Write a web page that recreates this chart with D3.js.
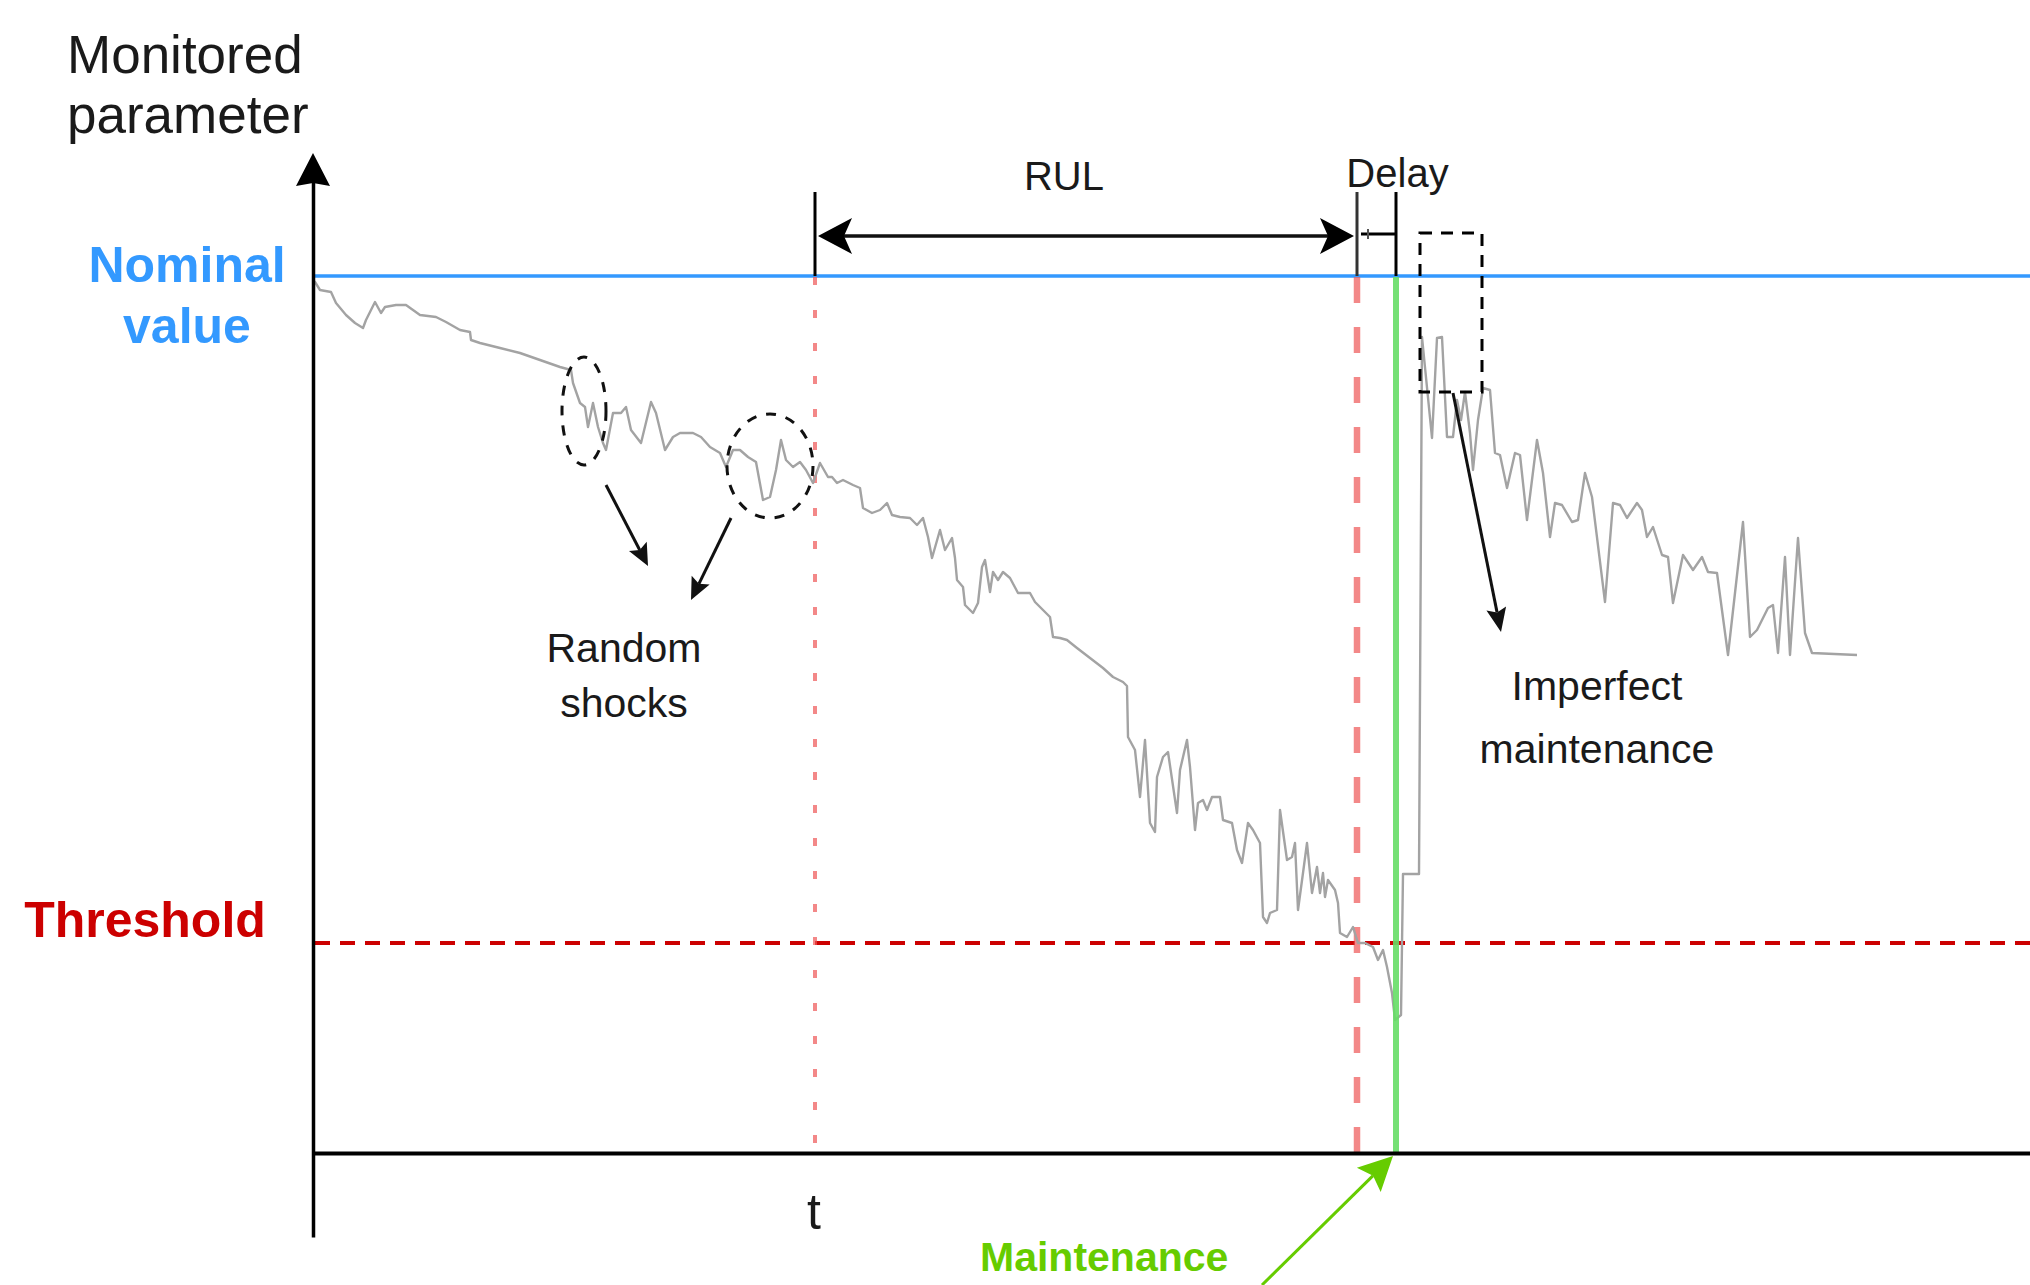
<!DOCTYPE html>
<html>
<head>
<meta charset="utf-8">
<script src="https://cdn.jsdelivr.net/npm/d3@7"></script>
<style>
  html, body { margin: 0; padding: 0; background: #fff; overflow: hidden; }
  svg { display: block; }
  text { font-family: "Liberation Sans", Arial, Helvetica, sans-serif; }
</style>
</head>
<body>
<svg id="chart" width="2030" height="1285"></svg>
<script>
// ---------------- DATA ----------------
// Degradation path before maintenance (time step, monitored value)
const preTime = [0,2,7,18,23,33,42,50,53,62,68,72,83,93,100,107,123,133,147,157,158,167,187,207,227,247,258,260,267,272,275,280,285,290,293,300,308,313,318,328,338,343,352,360,367,380,388,397,407,413,420,427,435,443,450,457,463,468,473,480,487,493,500,507,515,519,524,530,540,547,550,559,567,574,579,587,597,604,610,615,619,627,632,639,642,644,650,652,660,665,669,672,677,680,685,690,697,705,717,722,730,737,740,747,754,764,777,790,800,810,814,815,822,827,832,837,842,844,850,855,864,867,874,877,882,885,890,894,899,907,910,919,924,929,932,935,940,947,950,954,957,964,967,974,979,982,985,990,994,999,1004,1007,1010,1012,1015,1022,1025,1027,1034,1040,1045,1052,1060,1065,1070,1074,1079,1082];
const preValue = [873,871,863,861,850,838,830,825,833,851,840,846,848,848,843,838,836,831,823,821,813,810,805,800,793,786,783,770,750,746,726,750,726,710,703,740,740,746,723,710,751,740,703,716,720,720,716,706,700,686,703,703,696,691,653,656,683,713,693,686,691,683,670,690,676,676,670,673,668,665,645,640,643,650,638,636,635,628,635,616,595,623,603,615,595,573,566,548,540,550,586,593,561,581,573,581,575,560,560,551,543,536,516,515,513,505,495,485,476,471,467,416,403,356,413,330,321,376,396,401,340,383,413,386,323,350,353,343,356,356,333,330,303,290,310,330,323,310,236,230,240,243,343,293,296,310,243,280,310,260,286,260,280,256,273,263,250,220,216,226,210,210,206,193,203,186,160,133];
// Path after (imperfect) maintenance
const postTime = [1088,1090,1106,1109,1119,1124,1129,1134,1140,1144,1148,1152,1157,1160,1165,1170,1177,1182,1187,1194,1202,1207,1214,1224,1230,1237,1242,1249,1259,1265,1272,1279,1292,1300,1307,1314,1324,1329,1334,1340,1349,1355,1360,1370,1380,1389,1395,1404,1415,1430,1437,1444,1455,1460,1465,1472,1477,1485,1492,1499,1544];
const postValue = [138,279,279,816,715,815,816,716,716,753,733,761,720,683,733,765,763,700,698,665,700,698,633,713,680,616,650,648,631,633,680,656,551,650,648,635,650,643,616,626,598,596,550,598,583,596,581,580,498,631,516,523,545,548,500,596,498,615,520,500,498];

// Reference levels and key instants
const nominalValue = 877;
const thresholdValue = 210;
const tObserve = 502;     // "t"
const tFailure = 1044;    // threshold reached (end of RUL)
const tMaintenance = 1083;// maintenance performed (end of delay)

// Random shock ellipses: [centerTime, centerValue, halfWidth, halfHeight]
const shockTime = [271, 457];
const shockValue = [742, 687];
const shockRx = [22, 43];
const shockRy = [54, 52];

// Labels
const yTitle = ["Monitored", "parameter"];
const nominalLabel = ["Nominal", "value"];
const thresholdLabel = "Threshold";
const shockLabel = ["Random", "shocks"];
const imperfectLabel = ["Imperfect", "maintenance"];
const maintLabel = "Maintenance";
const tLabel = "t";

// ---------------- DRAW ----------------
const svg = d3.select("#chart");
const x = d3.scaleLinear().domain([0, 1717]).range([313, 2030]);
const y = d3.scaleLinear().domain([0, 877]).range([1153, 276]);

function arrowHead(x1, y1, x2, y2, len, hw, notch) {
  const d = Math.hypot(x2 - x1, y2 - y1);
  const ux = (x2 - x1) / d, uy = (y2 - y1) / d;
  const px = -uy, py = ux;
  const bx = x2 - ux * len, by = y2 - uy * len;
  const nx = x2 - ux * (len - notch), ny = y2 - uy * (len - notch);
  return `M${x2},${y2}L${bx + px * hw},${by + py * hw}L${nx},${ny}L${bx - px * hw},${by - py * hw}Z`;
}
function arrow(g, x1, y1, x2, y2, color, width, len, hw, notch) {
  const d = Math.hypot(x2 - x1, y2 - y1);
  const ux = (x2 - x1) / d, uy = (y2 - y1) / d;
  g.append("line").attr("x1", x1).attr("y1", y1)
    .attr("x2", x2 - ux * (len - notch)).attr("y2", y2 - uy * (len - notch))
    .attr("stroke", color).attr("stroke-width", width);
  g.append("path").attr("d", arrowHead(x1, y1, x2, y2, len, hw, notch)).attr("fill", color);
}

// Nominal line
svg.append("line")
  .attr("x1", x(0)).attr("x2", x(1717))
  .attr("y1", y(nominalValue)).attr("y2", y(nominalValue))
  .attr("stroke", "#3399FF").attr("stroke-width", 3.5);

// Threshold line
svg.append("line")
  .attr("x1", x(0) + 2).attr("x2", x(1717))
  .attr("y1", y(thresholdValue)).attr("y2", y(thresholdValue))
  .attr("stroke", "#CC0000").attr("stroke-width", 4)
  .attr("stroke-dasharray", "15 10");

// t dotted line
svg.append("line")
  .attr("x1", x(tObserve)).attr("x2", x(tObserve))
  .attr("y1", y(nominalValue) + 1).attr("y2", y(0))
  .attr("stroke", "#EE5555").attr("stroke-opacity", 0.7).attr("stroke-width", 4)
  .attr("stroke-dasharray", "8 25");

// Failure dashed line
svg.append("line")
  .attr("x1", x(tFailure)).attr("x2", x(tFailure))
  .attr("y1", y(nominalValue) + 1).attr("y2", y(0))
  .attr("stroke", "#EE5555").attr("stroke-opacity", 0.7).attr("stroke-width", 6.5)
  .attr("stroke-dasharray", "26 24");

// Degradation curve
const series = preTime.map((t, i) => [t, preValue[i]])
  .concat(postTime.map((t, i) => [t, postValue[i]]));
const line = d3.line().x(d => x(d[0])).y(d => y(d[1]));
svg.append("path").datum(series)
  .attr("d", line)
  .attr("fill", "none").attr("stroke", "#A3A3A3").attr("stroke-width", 2.4)
  .attr("stroke-linejoin", "round");

// Maintenance green line
svg.append("line")
  .attr("x1", x(tMaintenance)).attr("x2", x(tMaintenance))
  .attr("y1", y(nominalValue) + 1).attr("y2", y(0))
  .attr("stroke", "#66DD66").attr("stroke-opacity", 0.9).attr("stroke-width", 6);

// Axes
const xAxis = d3.axisBottom(x).tickValues([]).tickSizeOuter(0);
svg.append("g").attr("transform", `translate(0,${y(0)})`).call(xAxis)
  .select(".domain").attr("stroke", "#000").attr("stroke-width", 4);
const yAxisScale = d3.scaleLinear().domain([-84, 975]).range([y(-84), y(975)]);
const yAxis = d3.axisLeft(yAxisScale).tickValues([]).tickSizeOuter(0);
svg.append("g").attr("transform", `translate(${x(0)},0)`).call(yAxis)
  .select(".domain").attr("stroke", "#000").attr("stroke-width", 3.5);
svg.append("path")
  .attr("d", arrowHead(x(0), y(960), x(0), y(1000), 33, 17, 3))
  .attr("fill", "#000");

// RUL / Delay bars above nominal line
[tObserve, tFailure, tMaintenance].forEach((t, i) => {
  svg.append("line")
    .attr("x1", x(t)).attr("x2", x(t))
    .attr("y1", y(nominalValue + 84)).attr("y2", y(nominalValue))
    .attr("stroke", i === 1 ? "#333" : "#000").attr("stroke-width", 3);
});
// RUL double arrow
const rulY = y(917);
const ax = svg.append("g");
ax.append("line").attr("x1", x(tObserve) + 20).attr("x2", x(tFailure) - 20)
  .attr("y1", rulY).attr("y2", rulY).attr("stroke", "#111").attr("stroke-width", 3.5);
ax.append("path").attr("d", arrowHead(x(tFailure), rulY, x(tObserve) + 3, rulY, 34, 18, 8)).attr("fill", "#000");
ax.append("path").attr("d", arrowHead(x(tObserve), rulY, x(tFailure) - 3, rulY, 34, 18, 8)).attr("fill", "#000");
// Delay small span
const dY = y(919);
ax.append("line").attr("x1", x(tFailure) + 4).attr("x2", x(tMaintenance))
  .attr("y1", dY).attr("y2", dY).attr("stroke", "#000").attr("stroke-width", 3);
ax.append("line").attr("x1", x(tFailure) + 11).attr("x2", x(tFailure) + 11)
  .attr("y1", dY - 5).attr("y2", dY + 5).attr("stroke", "#555").attr("stroke-width", 2);

// Random shock ellipses
const sg = svg.append("g");
shockTime.forEach((t, i) => {
  sg.append("ellipse")
    .attr("cx", x(t)).attr("cy", y(shockValue[i]))
    .attr("rx", shockRx[i]).attr("ry", shockRy[i])
    .attr("fill", "none").attr("stroke", "#111").attr("stroke-width", 3)
    .attr("stroke-dasharray", "10 10");
});
// Shock arrows
arrow(sg, x(293), y(668), x(335), y(587), "#111", 3, 22, 10, 4);
arrow(sg, x(418), y(635), x(378), y(553), "#111", 3, 22, 10, 4);

// Imperfect maintenance dashed rectangle
svg.append("rect")
  .attr("x", x(1107)).attr("y", y(920))
  .attr("width", x(1169) - x(1107)).attr("height", y(761) - y(920))
  .attr("fill", "none").attr("stroke", "#000").attr("stroke-width", 3)
  .attr("stroke-dasharray", "12 9");
arrow(svg, x(1140), y(760), x(1188), y(521), "#111", 3, 24, 10, 4);

// Maintenance arrow (green)
arrow(svg, x(949), y(-132), x(tMaintenance - 3), y(-3), "#66CC00", 3, 34, 17, 6);

// ---------------- TEXT ----------------
const txt = (s, tx, ty, opts) => {
  const el = svg.append("text").attr("x", tx).attr("y", ty).text(s)
    .attr("font-size", opts.size).attr("fill", opts.color || "#1a1a1a")
    .attr("text-anchor", opts.anchor || "middle");
  if (opts.bold) el.attr("font-weight", "bold");
  return el;
};
txt(yTitle[0], 67, 73, {size: 53, anchor: "start"});
txt(yTitle[1], 67, 133, {size: 53, anchor: "start"});
txt(nominalLabel[0], 187, y(nominalValue) + 6, {size: 50, bold: true, color: "#3399FF"});
txt(nominalLabel[1], 187, y(nominalValue) + 67, {size: 50, bold: true, color: "#3399FF"});
txt(thresholdLabel, 145, y(thresholdValue) - 6, {size: 50, bold: true, color: "#CC0000"});
txt(tLabel, x(tObserve) - 1, y(0) + 76, {size: 50});
txt("RUL", 1064, y(917) - 46, {size: 40});
txt("Delay", (x(tFailure) + x(tMaintenance)) / 2 + 21, y(917) - 49, {size: 40});
txt(shockLabel[0], 624, 662, {size: 41});
txt(shockLabel[1], 624, 717, {size: 41});
txt(imperfectLabel[0], 1597, 700, {size: 41});
txt(imperfectLabel[1], 1597, 763, {size: 41});
txt(maintLabel, 980, 1271, {size: 41, bold: true, color: "#66CC00", anchor: "start"});
</script>
</body>
</html>
